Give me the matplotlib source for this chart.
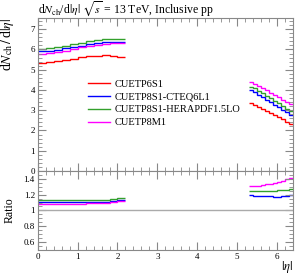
import numpy as np
import matplotlib
matplotlib.use("Agg")
import matplotlib.pyplot as plt
from matplotlib.ticker import MultipleLocator

plt.rcParams['font.family'] = ['Liberation Serif', 'DejaVu Serif']
plt.rcParams['mathtext.fontset'] = 'stix'

# bin edges
central_edges = np.arange(0, 2.21, 0.2)
forward_edges = np.arange(5.3, 6.41, 0.1)

labels = ["CUETP6S1", "CUETP8S1-CTEQ6L1", "CUETP8S1-HERAPDF1.5LO", "CUETP8M1"]
colors = ["#ff0000", "#0000ff", "#33a02c", "#ff00ff"]

# dNch/d|eta| in central region
central_red = [5.32, 5.36, 5.42, 5.48, 5.55, 5.61, 5.66, 5.70, 5.72, 5.70, 5.64]
central_blue = [5.90, 5.93, 5.99, 6.05, 6.12, 6.19, 6.26, 6.31, 6.35, 6.37, 6.37]
central_green = [6.02, 6.06, 6.12, 6.18, 6.26, 6.33, 6.40, 6.46, 6.50, 6.52, 6.52]
central_magenta = [5.77, 5.81, 5.87, 5.94, 6.02, 6.10, 6.18, 6.24, 6.29, 6.31, 6.32]

# forward region
forward_red = [3.34, 3.27, 3.18, 3.08, 2.98, 2.88, 2.78, 2.67, 2.56, 2.44, 2.33]
forward_blue = [3.98, 3.88, 3.76, 3.64, 3.52, 3.40, 3.27, 3.14, 3.02, 2.90, 2.78]
forward_green = [4.17, 4.08, 3.96, 3.84, 3.72, 3.60, 3.48, 3.36, 3.22, 3.08, 2.95]
forward_magenta = [4.37, 4.30, 4.18, 4.08, 3.98, 3.86, 3.76, 3.64, 3.52, 3.40, 3.29]

central = [central_red, central_blue, central_green, central_magenta]
forward = [forward_red, forward_blue, forward_green, forward_magenta]

fig = plt.figure(figsize=(3.04, 2.74), dpi=100)
ax = fig.add_axes([0.124, 0.376, 0.840, 0.558])
rax = fig.add_axes([0.124, 0.088, 0.840, 0.288], sharex=ax)

for c, f, lab, col in zip(central, forward, labels, colors):
    ax.stairs(c, central_edges, color=col, lw=1.0, label=lab, baseline=None)
    ax.stairs(f, forward_edges, color=col, lw=1.0, baseline=None)

rax.axhline(1.0, color="#aaaaaa", lw=1.0)
for c, f, col in zip(central[1:], forward[1:], colors[1:]):
    rax.stairs(np.array(c) / np.array(central_red), central_edges, color=col, lw=1.0, baseline=None)
    rax.stairs(np.array(f) / np.array(forward_red), forward_edges, color=col, lw=1.0, baseline=None)

ax.set_xlim(0, 6.4)
ax.set_ylim(0, 7.55)
rax.set_ylim(0.5, 1.5)

for a in (ax, rax):
    a.xaxis.set_major_locator(MultipleLocator(1))
    a.xaxis.set_minor_locator(MultipleLocator(0.2))
    a.tick_params(which='both', direction='in', top=True, right=True,
                  labelsize=6.5, color='#888888', pad=2)
    a.tick_params(which='major', length=6)
    a.tick_params(which='minor', length=3)
    for s in a.spines.values():
        s.set_color('#888888')
        s.set_linewidth(0.8)

ax.yaxis.set_major_locator(MultipleLocator(1))
ax.yaxis.set_minor_locator(MultipleLocator(0.2))
rax.yaxis.set_minor_locator(MultipleLocator(0.05))
rax.set_yticks([0.6, 0.8, 1.0, 1.2, 1.4])
rax.set_yticklabels(["0.6", "0.8", "1", "1.2", "1.4"])
plt.setp(ax.get_xticklabels(), visible=False)

ax.set_ylabel(r"d$N_{\mathrm{ch}}\,/\,$d$|\eta|$", fontsize=10, loc='top')
rax.set_ylabel("Ratio", fontsize=8.5)
rax.set_xlabel(r"$|\eta|$", fontsize=9, loc='right', labelpad=-1)
ax.yaxis.set_label_coords(-0.085, 1.0)
rax.yaxis.set_label_coords(-0.085, 0.5)

fig.text(0.124, 0.952, r"d$N_{\mathrm{ch}}$/d$|\eta|$ $\sqrt{s}$ = 13 TeV, Inclusive pp",
         fontsize=8.5, va='baseline', ha='left')

ax.legend(loc='upper left', bbox_to_anchor=(0.197, 0.60), frameon=False,
          fontsize=7.5, handlelength=2.1, handletextpad=0.5, labelspacing=0.35,
          borderpad=0, borderaxespad=0)

fig.savefig("out.png", dpi=100)
